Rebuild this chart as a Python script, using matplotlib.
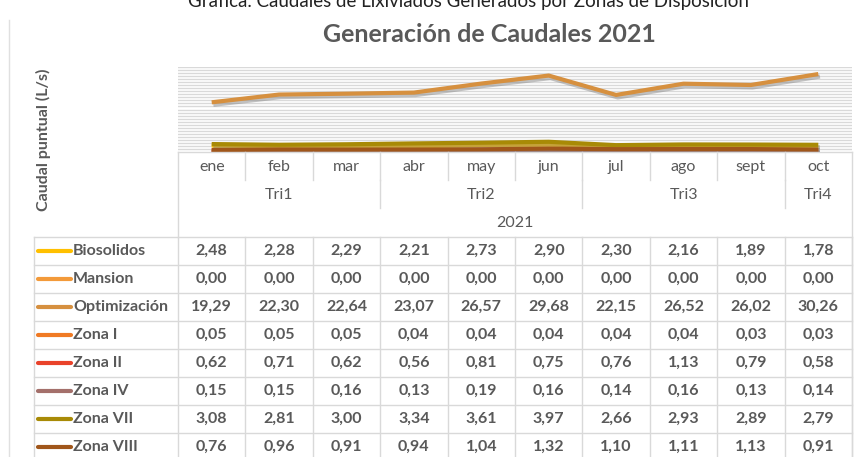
import matplotlib
matplotlib.use('Agg')
import matplotlib.pyplot as plt
import matplotlib.patheffects as pe
import matplotlib.transforms as mtransforms
import numpy as np

plt.rcParams['font.family'] = ['Lato', 'DejaVu Sans']

# data
months = ['ene', 'feb', 'mar', 'abr', 'may', 'jun', 'jul', 'ago', 'sept', 'oct']
quarters = ['Tri1', 'Tri2', 'Tri3', 'Tri4']
quarter_cols = [(0, 2), (3, 5), (6, 8), (9, 9)]
year = '2021'

series_names = ['Biosolidos', 'Mansion', 'Optimización', 'Zona I',
                'Zona II', 'Zona IV', 'Zona VII', 'Zona VIII']
biosolidos = [2.48, 2.28, 2.29, 2.21, 2.73, 2.90, 2.30, 2.16, 1.89, 1.78]
mansion = [0.00, 0.00, 0.00, 0.00, 0.00, 0.00, 0.00, 0.00, 0.00, 0.00]
optimizacion = [19.29, 22.30, 22.64, 23.07, 26.57, 29.68, 22.15, 26.52, 26.02, 30.26]
zona_i = [0.05, 0.05, 0.05, 0.04, 0.04, 0.04, 0.04, 0.04, 0.03, 0.03]
zona_ii = [0.62, 0.71, 0.62, 0.56, 0.81, 0.75, 0.76, 1.13, 0.79, 0.58]
zona_iv = [0.15, 0.15, 0.16, 0.13, 0.19, 0.16, 0.14, 0.16, 0.13, 0.14]
zona_vii = [3.08, 2.81, 3.00, 3.34, 3.61, 3.97, 2.66, 2.93, 2.89, 2.79]
zona_viii = [0.76, 0.96, 0.91, 0.94, 1.04, 1.32, 1.10, 1.11, 1.13, 0.91]
series_values = [biosolidos, mansion, optimizacion, zona_i,
                 zona_ii, zona_iv, zona_vii, zona_viii]

colors = ['#FFC000', '#F39A3A', '#D6903F', '#F07A24',
          '#E9422A', '#A4706B', '#A88A06', '#A0561A']

W, H = 855, 457
txt = '#595959'
grid_c = '#D9D9D9'
fs = 11.5

fig = plt.figure(figsize=(W / 100, H / 100), dpi=100)
fig.patch.set_facecolor('white')

# plot area (pixels: x 178-852, y 67-152)
ax = fig.add_axes([178 / W, 1 - 152 / H, (852 - 178) / W, (152 - 67) / H])
x = np.arange(len(months))
ax.set_xlim(-0.5, len(months) - 0.5)
ax.set_ylim(0, 33)
for gy in np.linspace(0, 33, 29)[1:]:
    ax.axhline(gy, color=grid_c, lw=1.0, zorder=0)

shadow = [pe.SimpleLineShadow(offset=(1.2, -1.8), shadow_color='#7f7f7f', alpha=0.45),
          pe.Normal()]
for name, vals, c in zip(series_names, series_values, colors):
    ax.plot(x, vals, color=c, lw=3.0, solid_capstyle='butt',
            solid_joinstyle='round', path_effects=shadow, zorder=3)

ax.set_xticks([])
ax.set_yticks([])
for s in ax.spines.values():
    s.set_visible(False)

# overlay in pixel coordinates for table and texts
ov = fig.add_axes([0, 0, 1, 1], facecolor='none')
ov.set_xlim(0, W)
ov.set_ylim(H, 0)
ov.axis('off')
bt = mtransforms.blended_transform_factory(ax.transData, ov.transData)

ov.text(468, 7, 'Gráfica. Caudales de Lixiviados Generados por Zonas de Disposición',
        ha='center', va='baseline', fontsize=13.5, color='#222222')
ov.text(489, 35, 'Generación de Caudales 2021', ha='center', va='center',
        fontsize=18, fontweight='bold', color=txt)
ov.text(43, 140, 'Caudal puntual (L/s)', rotation=90, ha='center', va='center',
        fontsize=11.5, fontweight='bold', color=txt)

# chart frame line on the left
ov.plot([9, 9], [20, H], color='#E0E0E0', lw=1)

line_kw = dict(color='#D9D9D9', lw=1.0)
left_tab, x0, x1 = 34, 178, 852
col_w = (x1 - x0) / len(months)
y_top, y_month, y_tri, y_year = 152, 180, 208, 237
row_h = 28

# header grid
ov.plot([x0, x1], [y_top, y_top], **line_kw)
ov.plot([x0, x0], [y_top, y_year], **line_kw)
ov.plot([x1, x1], [y_top, H], **line_kw)
for i in range(1, len(months)):
    ov.plot([x0 + i * col_w] * 2, [y_top, y_month], **line_kw)
for a, b in quarter_cols[:-1]:
    ov.plot([x0 + (b + 1) * col_w] * 2, [y_month, y_tri], **line_kw)

for i, m in enumerate(months):
    ov.text(i, 167, m, transform=bt, ha='center', va='center', fontsize=fs, color=txt)
for q, (a, b) in zip(quarters, quarter_cols):
    ov.text((a + b) / 2, 195, q, transform=bt, ha='center', va='center',
            fontsize=fs, color=txt)
ov.text((len(months) - 1) / 2, 223, year, transform=bt, ha='center', va='center',
        fontsize=fs, color=txt)

# data rows
n_rows = len(series_names)
for r in range(n_rows + 1):
    yy = y_year + r * row_h
    ov.plot([left_tab, x1], [yy, yy], **line_kw)
ov.plot([left_tab, left_tab], [y_year, H], **line_kw)
for i in range(len(months) + 1):
    ov.plot([x0 + i * col_w] * 2, [y_year, H], **line_kw)

for r, (name, vals, c) in enumerate(zip(series_names, series_values, colors)):
    yc = y_year + r * row_h + row_h / 2
    ov.plot([38, 71], [yc, yc], color=c, lw=3.0, solid_capstyle='round')
    ov.text(73, yc, name, ha='left', va='center', fontsize=fs,
            fontweight='bold', color=txt)
    for i, v in enumerate(vals):
        ov.text(i, yc, f'{v:.2f}'.replace('.', ','), transform=bt, ha='center',
                va='center', fontsize=fs, fontweight='bold', color=txt)

fig.savefig('out.png', dpi=100)
